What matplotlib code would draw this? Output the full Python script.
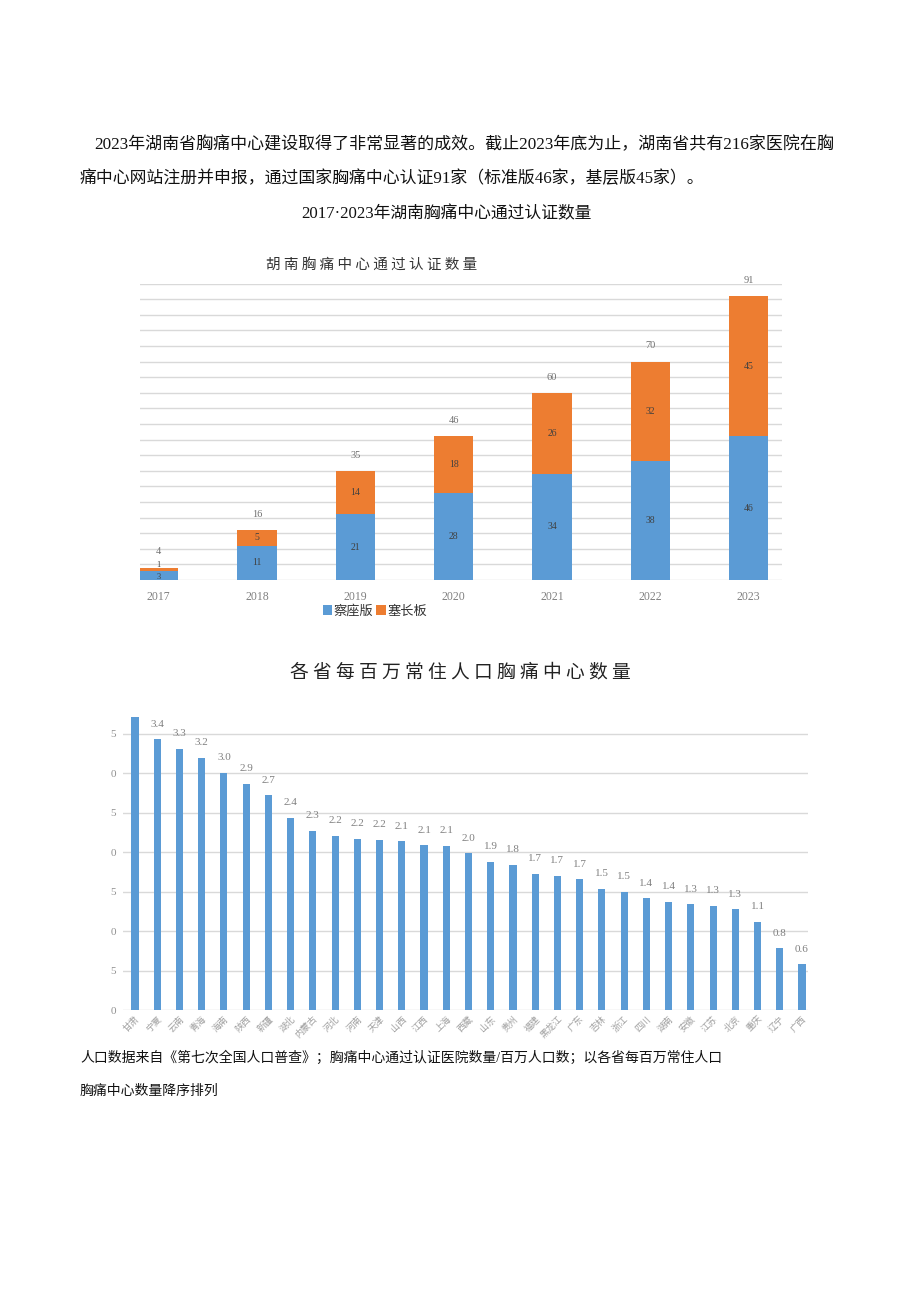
import matplotlib
matplotlib.use("Agg")
import matplotlib.pyplot as plt
import numpy as np

plt.rcParams['font.family'] = ['Noto Sans CJK SC', 'DejaVu Sans']

# ---------- data ----------
years = ["2017", "2018", "2019", "2020", "2021", "2022", "2023"]
standard = [3, 11, 21, 28, 34, 38, 46]     # 察座版 (blue)
basic = [1, 5, 14, 18, 26, 32, 45]         # 塞长板 (orange)
totals = [4, 16, 35, 46, 60, 70, 91]
legend_labels = ["察座版", "塞长板"]

provinces = ["甘肃", "宁夏", "云南", "青海", "海南", "陕西", "新疆", "湖北", "内蒙古",
             "河北", "河南", "天津", "山西", "江西", "上海", "西藏", "山东", "贵州",
             "福建", "黑龙江", "广东", "吉林", "浙江", "四川", "湖南", "安徽", "江苏",
             "北京", "重庆", "辽宁", "广西"]
per_million = [3.72, 3.43, 3.31, 3.20, 3.01, 2.87, 2.72, 2.44, 2.27, 2.21, 2.17,
               2.16, 2.14, 2.09, 2.08, 1.99, 1.88, 1.84, 1.73, 1.70, 1.66, 1.54,
               1.50, 1.42, 1.37, 1.34, 1.32, 1.28, 1.12, 0.78, 0.58]
y_ticks2 = [0, 0.5, 1.0, 1.5, 2.0, 2.5, 3.0, 3.5]
y_ticklabels2 = ["0", "5", "0", "5", "0", "5", "0", "5"]

BLUE = "#5B9BD5"
ORANGE = "#ED7D31"
GRID = "#D9D9D9"
SERIF = ['Liberation Serif', 'Noto Sans CJK SC']

W, H = 920, 1301
fig = plt.figure(figsize=(W / 100, H / 100), dpi=100)
fig.patch.set_facecolor("white")

def fx(px):
    return px / W

def fy(py):
    return 1 - py / H

# ---------- page text ----------
fig.text(fx(94), fy(145), "2023年湖南省胸痛中心建设取得了非常显著的成效。截止2023年底为止，湖南省共有216家医院在胸",
         family=SERIF, fontsize=12.25, va="center", ha="left", color="#111111")
fig.text(fx(80), fy(179), "痛中心网站注册并申报，通过国家胸痛中心认证91家（标准版46家，基层版45家）。",
         family=SERIF, fontsize=12.15, va="center", ha="left", color="#111111")
fig.text(fx(446), fy(214), "2017·2023年湖南胸痛中心通过认证数量",
         family=SERIF, fontsize=12.1, va="center", ha="center", color="#111111")

# ---------- chart 1 ----------
ax1 = fig.add_axes([fx(140), fy(580), fx(782) - fx(140), (580 - 283.6) / H])
x = np.arange(len(years))
bw = 0.4
b1 = ax1.bar(x, standard, bw, color=BLUE, zorder=3, label=legend_labels[0])
b2 = ax1.bar(x, basic, bw, bottom=standard, color=ORANGE, zorder=3, label=legend_labels[1])
ax1.set_xlim(-0.19, 6.34)
ax1.set_ylim(0, 95)
ax1.set_yticks(np.arange(0, 96, 5))
ax1.yaxis.grid(True, color=GRID, lw=1, zorder=0)
ax1.tick_params(axis="y", length=0, labelleft=False)
ax1.tick_params(axis="x", length=0, pad=8)
ax1.set_xticks(x)
ax1.set_xticklabels(years, family=SERIF, fontsize=8.5, color="#808080")
for s in ax1.spines.values():
    s.set_visible(False)
for xi, s_, b_, t_ in zip(x, standard, basic, totals):
    small = s_ < 5
    ax1.text(xi, s_ / 2 - (0.6 if small else 0), str(s_), ha="center", va="center",
             fontsize=6 if small else 7, family=SERIF, color="#404040", zorder=4)
    ax1.text(xi, s_ + b_ / 2 + (1.2 if small else 0), str(b_), ha="center", va="center",
             fontsize=6 if small else 7, family=SERIF, color="#404040", zorder=4)
    ax1.text(xi, t_ + 5, str(t_), ha="center", va="center", fontsize=7.5,
             family=SERIF, color="#707070", zorder=4)
ax1.legend(loc="center", bbox_to_anchor=((375 - 140) / 642, -0.105), ncol=2,
           frameon=False, handlelength=0.7, handleheight=0.7, handletextpad=0.15,
           columnspacing=0.2, fontsize=9.5, labelcolor="#333333")
fig.text(fx(372), fy(265), "胡 南 胸 痛 中 心 通 过 认 证 数 量", fontsize=10.5,
         ha="center", va="center", color="#333333")

# ---------- chart 2 ----------
fig.text(fx(460), fy(672), "各 省 每 百 万 常 住 人 口 胸 痛 中 心 数 量", fontsize=13.5,
         ha="center", va="center", color="#222222")
ax2 = fig.add_axes([fx(123), fy(1010), fx(808) - fx(123), (1010 - 715) / H])
x2 = np.arange(len(provinces))
bars2 = ax2.bar(x2, per_million, 0.32, color=BLUE, zorder=3)
ax2.set_xlim(-0.54, 30.27)
ax2.set_ylim(0, 3.74)
ax2.set_yticks(y_ticks2)
ax2.set_yticklabels(y_ticklabels2, family=SERIF, fontsize=8, color="#909090")
ax2.yaxis.grid(True, color=GRID, lw=1, zorder=0)
ax2.tick_params(axis="y", length=0, pad=5)
ax2.tick_params(axis="x", length=0, pad=3)
ax2.set_xticks(x2)
ax2.set_xticklabels(provinces, rotation=45, ha="right", rotation_mode="anchor",
                    fontsize=6.5, color="#A0A0A0")
for s in ax2.spines.values():
    s.set_visible(False)
for xi, v in zip(x2, per_million):
    ax2.text(xi, v + 0.19, f"{v:.1f}", ha="center", va="center", fontsize=8,
             family=SERIF, color="#808080", zorder=4, clip_on=True)

# ---------- footnote ----------
fig.text(fx(80), fy(1058), "人口数据来自《第七次全国人口普查》；胸痛中心通过认证医院数量/百万人口数；以各省每百万常住人口",
         family=SERIF, fontsize=10.0, va="center", ha="left", color="#111111")
fig.text(fx(80), fy(1091), "胸痛中心数量降序排列",
         family=SERIF, fontsize=10.0, va="center", ha="left", color="#111111")

fig.savefig("out.png", dpi=100, facecolor="white")
